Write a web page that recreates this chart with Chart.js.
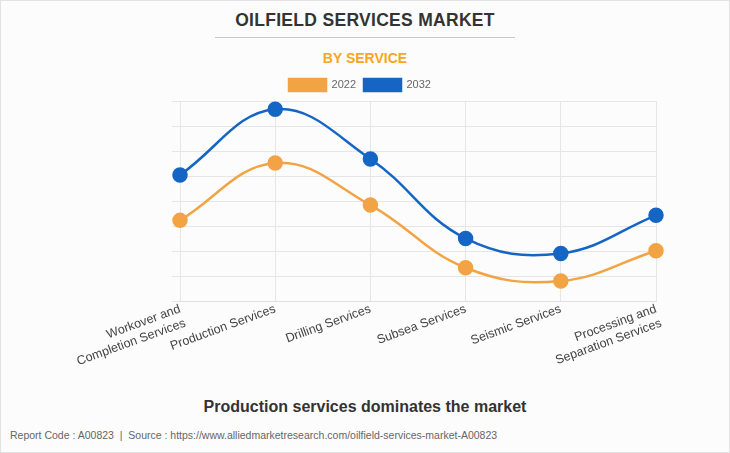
<!DOCTYPE html>
<html>
<head>
<meta charset="utf-8">
<script src="https://cdn.jsdelivr.net/npm/chart.js@4"></script>
<style>
  html, body { margin: 0; padding: 0; background: #fff; }
  body { width: 730px; height: 453px; position: relative; overflow: hidden; font-family: "Liberation Sans", Arial, sans-serif; }
  .frame { position: absolute; left: 0; top: 0; width: 728px; height: 451px; border: 1px solid #e2e2e2; background: #fdfcfc; }
  .title { position: absolute; top: 10px; left: 0; width: 730px; text-align: center; font-size: 17.5px; font-weight: bold; color: #333; letter-spacing: 0.3px; }
  .rule { position: absolute; top: 37px; left: 215px; width: 300px; height: 1px; background: #c8c8c8; }
  .sub { position: absolute; top: 50px; left: 0; width: 730px; text-align: center; font-size: 14px; font-weight: bold; color: #f5a623; }
  .note { position: absolute; top: 398px; left: 0; width: 730px; text-align: center; font-size: 16px; font-weight: bold; color: #333; }
  .src { position: absolute; top: 429px; left: 10px; font-size: 10.5px; color: #666; }
  #wrap { position: absolute; left: 0; top: 71px; width: 730px; height: 298px; }
</style>
</head>
<body>
<div class="frame"></div>
<div class="title">OILFIELD SERVICES MARKET</div>
<div class="rule"></div>
<div class="sub">BY SERVICE</div>
<div id="wrap"><canvas id="chart"></canvas></div>
<div class="note">Production services dominates the market</div>
<div class="src">Report Code : A00823 &nbsp;|&nbsp; Source : https://www.alliedmarketresearch.com/oilfield-services-market-A00823</div>
<script>
const categories = [
    ['Workover and', 'Completion Services'],
    'Production Services',
    'Drilling Services',
    'Subsea Services',
    'Seismic Services',
    ['Processing and', 'Separation Services']
];
const values2022 = [32.4, 55.3, 38.5, 13.5, 8.2, 20.3];
const values2032 = [50.5, 76.7, 56.9, 25.2, 19.2, 34.4];

const orange = '#f2a444';
const blue = '#1565c4';
const font = '"Liberation Sans", Arial, sans-serif';

new Chart(document.getElementById('chart'), {
    type: 'line',
    data: {
        labels: categories,
        datasets: [
            { label: '2022', data: values2022, borderColor: orange, backgroundColor: orange,
              borderWidth: 2.5, tension: 0.4, pointRadius: 6.5, pointHoverRadius: 6.5 },
            { label: '2032', data: values2032, borderColor: blue, backgroundColor: blue,
              borderWidth: 2.5, tension: 0.4, pointRadius: 6.5, pointHoverRadius: 6.5 }
        ]
    },
    options: {
        responsive: true,
        maintainAspectRatio: false,
        animation: false,
        layout: { padding: { left: 0, right: 10, top: 0, bottom: 0 } },
        plugins: {
            legend: {
                display: true,
                labels: { boxWidth: 37, boxHeight: 12, padding: 8, color: '#666',
                          font: { family: font, size: 11 } }
            },
            tooltip: { enabled: false }
        },
        scales: {
            x: {
                offset: false,
                grid: { color: '#e6e6e6', drawTicks: false },
                border: { color: '#e0e0e0' },
                ticks: { color: '#444', maxRotation: 20, minRotation: 20, padding: 0, autoSkip: false,
                         font: { family: font, size: 12.5 } }
            },
            y: {
                min: 0, max: 80,
                grid: { color: '#e6e6e6', drawTicks: true, tickLength: 8 },
                border: { display: false },
                ticks: { display: false, stepSize: 10 },
                afterFit: s => { s.width = 180; }
            },
            yRight: {
                position: 'right',
                min: 0, max: 80,
                grid: { display: false },
                border: { display: false },
                ticks: { display: false },
                afterFit: s => { s.width = 64; }
            }
        }
    }
});
</script>
</body>
</html>
